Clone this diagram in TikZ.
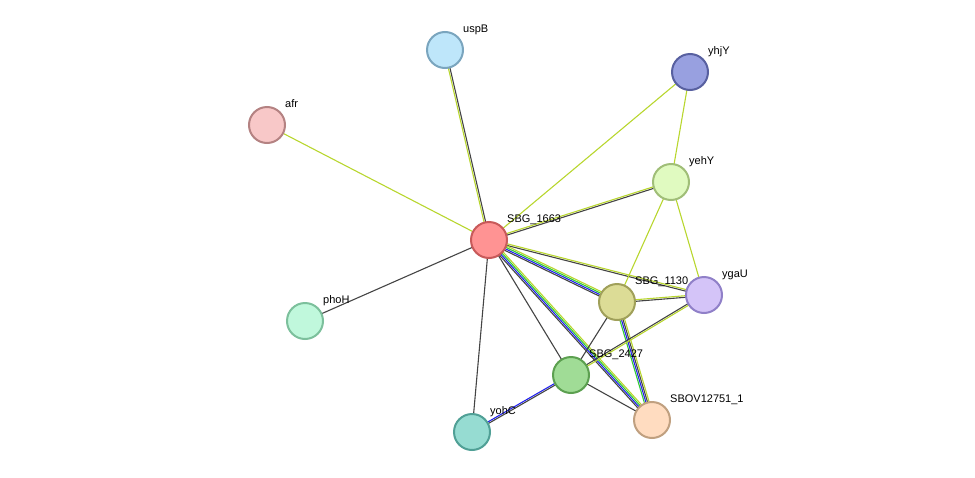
\documentclass[tikz,border=0pt]{standalone}
\usepackage{fontspec}
\setmainfont{Liberation Sans}
\usetikzlibrary{calc,backgrounds}

\definecolor{ygreen}{HTML}{B8D62E}
\definecolor{dgrey}{HTML}{444444}
\definecolor{lgreen}{HTML}{33CC33}
\definecolor{lblue}{HTML}{2222EE}

\tikzset{
  prot/.style={circle, minimum size=36pt, line width=2pt, inner sep=0},
  lbl/.style={anchor=base west, inner sep=0, font=\fontsize{11}{13}\selectfont}
}

% #1,#2 nodes, #3 number of lines, #4 colours
\newcommand\linkedge[4]{%
  \foreach \c [count=\i] in {#4} {
    \pgfmathsetmacro\off{(\i-(#3+1)/2)*1.6}
    \draw[\c, line width=1.1pt] ($(#1.center)!\off pt!90:(#2.center)$) -- ($(#2.center)!\off pt!-90:(#1.center)$);
  }%
}

\begin{document}
\begin{tikzpicture}[x=1pt,y=-1pt]
            \useasboundingbox (0,0) rectangle (975,477);

            \node [prot, fill={rgb,255:red,255;green,147;blue,147}, draw={rgb,255:red,200;green,90;blue,90}] (n1663) at (489,240) {};
            \node [prot, fill={rgb,255:red,190;green,230;blue,250}, draw={rgb,255:red,122;green,165;blue,190}] (uspB) at (445,50) {};
            \node [prot, fill={rgb,255:red,248;green,200;blue,200}, draw={rgb,255:red,180;green,130;blue,130}] (afr) at (267,125) {};
            \node [prot, fill={rgb,255:red,152;green,160;blue,224}, draw={rgb,255:red,88;green,96;blue,160}] (yhjY) at (690,72) {};
            \node [prot, fill={rgb,255:red,224;green,250;blue,192}, draw={rgb,255:red,160;green,190;blue,120}] (yehY) at (671,182) {};
            \node [prot, fill={rgb,255:red,192;green,248;blue,220}, draw={rgb,255:red,124;green,192;blue,156}] (phoH) at (305,321) {};
            \node [prot, fill={rgb,255:red,220;green,220;blue,150}, draw={rgb,255:red,160;green,160;blue,90}] (n1130) at (617,302) {};
            \node [prot, fill={rgb,255:red,212;green,196;blue,248}, draw={rgb,255:red,144;green,128;blue,200}] (ygaU) at (704,295) {};
            \node [prot, fill={rgb,255:red,160;green,220;blue,150}, draw={rgb,255:red,92;green,160;blue,80}] (n2427) at (571,375) {};
            \node [prot, fill={rgb,255:red,150;green,220;blue,210}, draw={rgb,255:red,80;green,160;blue,150}] (yohC) at (472,432) {};
            \node [prot, fill={rgb,255:red,255;green,220;blue,192}, draw={rgb,255:red,192;green,160;blue,128}] (sbov) at (652,420) {};

            % labels
            \node [lbl] (t1663) at ($(n1663)+(18,-18)$) {SBG\_1663};
            \node [lbl] (tuspB) at ($(uspB)+(18,-18)$) {uspB};
            \node [lbl] (tafr) at ($(afr)+(18,-18)$) {afr};
            \node [lbl] (tyhjY) at ($(yhjY)+(18,-18)$) {yhjY};
            \node [lbl] (tyehY) at ($(yehY)+(18,-18)$) {yehY};
            \node [lbl] (tphoH) at ($(phoH)+(18,-18)$) {phoH};
            \node [lbl] (t1130) at ($(n1130)+(18,-18)$) {SBG\_1130};
            \node [lbl] (tygaU) at ($(ygaU)+(18,-18)$) {ygaU};
            \node [lbl] (t2427) at ($(n2427)+(18,-18)$) {SBG\_2427};
            \node [lbl] (tyohC) at ($(yohC)+(18,-18)$) {yohC};
            \node [lbl] (tsbov) at ($(sbov)+(18,-18)$) {SBOV12751\_1};

            \begin{pgfonlayer}{background}
            \linkedge{n1663}{uspB}{2}{dgrey,ygreen}
            \linkedge{n1663}{afr}{1}{ygreen}
            \linkedge{n1663}{yhjY}{1}{ygreen}
            \linkedge{yhjY}{yehY}{1}{ygreen}
            \linkedge{n1663}{yehY}{2}{dgrey,ygreen}
            \linkedge{n1663}{phoH}{1}{dgrey}
            \linkedge{n1663}{yohC}{1}{dgrey}
            \linkedge{n1663}{ygaU}{2}{dgrey,ygreen}
            \linkedge{n1663}{n1130}{4}{dgrey,lblue,lgreen,ygreen}
            \linkedge{n1663}{sbov}{4}{dgrey,lblue,lgreen,ygreen}
            \linkedge{n1663}{n2427}{1}{dgrey}
            \linkedge{yehY}{n1130}{1}{ygreen}
            \linkedge{yehY}{ygaU}{1}{ygreen}
            \linkedge{n1130}{ygaU}{2}{dgrey,ygreen}
            \linkedge{n1130}{n2427}{1}{dgrey}
            \linkedge{n1130}{sbov}{4}{lgreen,lblue,dgrey,ygreen}
            \linkedge{ygaU}{n2427}{2}{dgrey,ygreen}
            \linkedge{n2427}{sbov}{1}{dgrey}
            \linkedge{n2427}{yohC}{2}{lblue,dgrey}
            \end{pgfonlayer}
\end{tikzpicture}
\end{document}
